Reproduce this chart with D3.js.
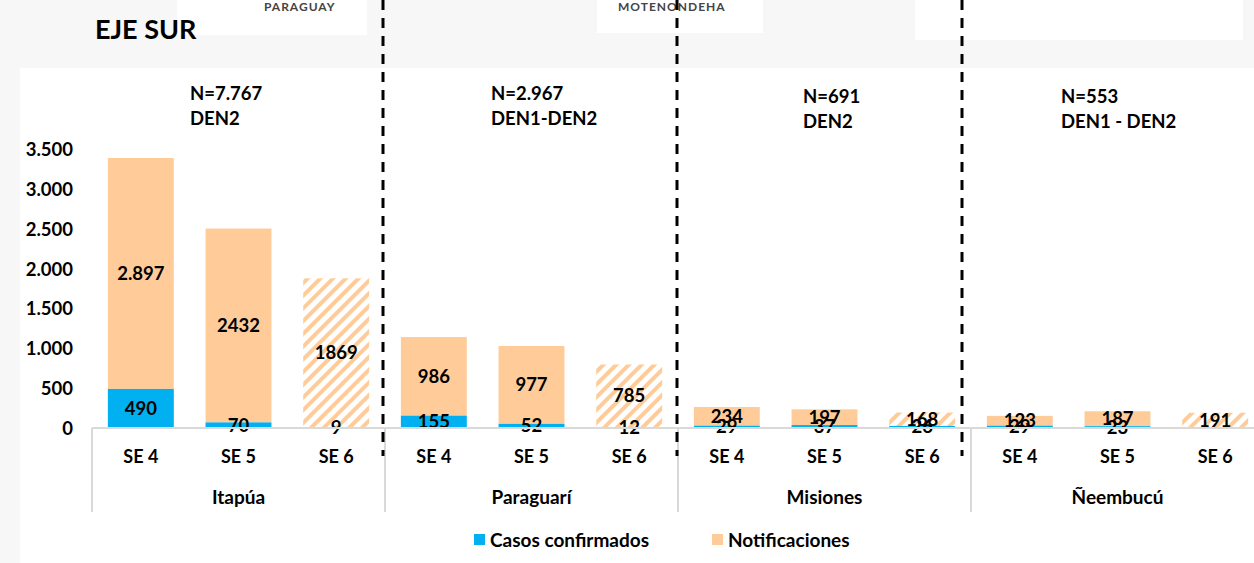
<!DOCTYPE html>
<html>
<head>
  <meta charset="utf-8">
  <title>Eje Sur - notificaciones y casos confirmados</title>
  <script src="https://d3js.org/d3.v7.min.js"></script>
  <style>
    body {
      margin: 0;
      background: #fff;
    }
    svg text {
      font-family: Lato, "Open Sans", sans-serif;
      font-weight: 700;
      fill: #000;
    }
  </style>
</head>
<body>
  <div id="chart"></div>
  <script>
    // Data
    var regions = ["Itapúa", "Paraguarí", "Misiones", "Ñeembucú"];
    var weeks = ["SE 4", "SE 5", "SE 6"];
    var confirmados = [
      [490, 70, 9],
      [155, 52, 12],
      [29, 37, 26],
      [29, 23, 0]
    ];
    var notificaciones = [
      [2897, 2432, 1869],
      [986, 977, 785],
      [234, 197, 168],
      [123, 187, 191]
    ];
    // labels as printed on the chart (mixed formatting in the original)
    var confLabels = [
      ["490", "70", "9"],
      ["155", "52", "12"],
      ["29", "37", "26"],
      ["29", "23", ""]
    ];
    var notifLabels = [
      ["2.897", "2432", "1869"],
      ["986", "977", "785"],
      ["234", "197", "168"],
      ["123", "187", "191"]
    ];
    var regionNotes = [
      ["N=7.767", "DEN2"],
      ["N=2.967", "DEN1-DEN2"],
      ["N=691", "DEN2"],
      ["N=553", "DEN1 - DEN2"]
    ];
    var yTicks = [0, 500, 1000, 1500, 2000, 2500, 3000, 3500];
    var partialWeek = "SE 6"; // incomplete week, drawn hatched

    var width = 1254, height = 563;
    var blue = "#00B0F0", peach = "#FFCC99";

    var svg = d3.select("#chart").append("svg")
      .attr("width", width)
      .attr("height", height);

    // background + header strips
    svg.append("rect").attr("width", width).attr("height", height).attr("fill", "#f7f7f7");
    svg.append("rect").attr("x", 20).attr("y", 68).attr("width", width - 20).attr("height", height - 68).attr("fill", "#fff");
    svg.append("rect").attr("x", 177).attr("y", 0).attr("width", 190).attr("height", 35).attr("fill", "#fff");
    svg.append("rect").attr("x", 597).attr("y", 0).attr("width", 166).attr("height", 33).attr("fill", "#fff");
    svg.append("rect").attr("x", 915).attr("y", 0).attr("width", 328).attr("height", 40).attr("fill", "#fff");
    svg.append("text").attr("x", 264).attr("y", 11).style("font-size", "12px").style("letter-spacing", "1px")
      .style("fill", "#444").text("PARAGUAY");
    svg.append("text").attr("x", 618).attr("y", 11).style("font-size", "12px").style("letter-spacing", "1px")
      .style("fill", "#444").text("MOTENONDEHA");

    svg.append("text").attr("x", 95).attr("y", 39).style("font-size", "27px").text("EJE SUR");

    // hatch pattern for the partial week
    var defs = svg.append("defs");
    var pat = defs.append("pattern")
      .attr("id", "hatch")
      .attr("patternUnits", "userSpaceOnUse")
      .attr("width", 9).attr("height", 9)
      .attr("patternTransform", "rotate(45)");
    pat.append("rect").attr("width", 9).attr("height", 9).attr("fill", "#fff");
    pat.append("rect").attr("width", 4).attr("height", 9).attr("fill", peach);

    // scales
    var x0 = d3.scaleBand().domain(regions).range([92, 1264]);
    var x1 = d3.scaleBand().domain(weeks).range([0, x0.bandwidth()])
      .paddingInner(0.325).paddingOuter(0.1625);
    var y = d3.scaleLinear().domain([0, 3500]).range([428, 149]);

    var loc = d3.formatLocale({ decimal: ",", thousands: ".", grouping: [3], currency: ["", ""] });
    var fmt = loc.format(",");

    // y axis (labels only)
    var yAxis = svg.append("g")
      .attr("transform", "translate(73,0)")
      .call(d3.axisLeft(y).tickValues(yTicks).tickFormat(fmt).tickSize(0).tickPadding(0));
    yAxis.select(".domain").remove();
    yAxis.selectAll("text").style("font-size", "18.5px").attr("dy", "0.35em");

    // flatten
    var rows = [];
    regions.forEach(function(r, i) {
      weeks.forEach(function(w, j) {
        rows.push({
          region: r, week: w,
          conf: confirmados[i][j], notif: notificaciones[i][j],
          confLabel: confLabels[i][j], notifLabel: notifLabels[i][j]
        });
      });
    });

    var bars = svg.append("g").selectAll("g")
      .data(rows)
      .enter().append("g")
      .attr("transform", function(d) { return "translate(" + (x0(d.region) + x1(d.week)) + ",0)"; });

    bars.append("rect")
      .attr("width", x1.bandwidth())
      .attr("y", function(d) { return y(d.conf + d.notif); })
      .attr("height", function(d) { return y(d.conf) - y(d.conf + d.notif); })
      .attr("fill", function(d) { return d.week === partialWeek ? "url(#hatch)" : peach; });

    bars.append("rect")
      .attr("width", x1.bandwidth())
      .attr("y", function(d) { return y(d.conf); })
      .attr("height", function(d) { return y(0) - y(d.conf); })
      .attr("fill", blue);

    // axis box: baseline and group separators
    var axisG = svg.append("g");
    axisG.append("line")
      .attr("x1", x0.range()[0]).attr("x2", width)
      .attr("y1", y(0)).attr("y2", y(0))
      .attr("stroke", "#d9d9d9").attr("stroke-width", 2);
    axisG.selectAll("line.sep")
      .data(regions)
      .enter().append("line")
      .attr("class", "sep")
      .attr("x1", function(d) { return x0(d); })
      .attr("x2", function(d) { return x0(d); })
      .attr("y1", y(0)).attr("y2", 512)
      .attr("stroke", "#d9d9d9").attr("stroke-width", 2);

    // value labels
    bars.append("text")
      .attr("x", x1.bandwidth() / 2)
      .attr("y", function(d) { return y(d.conf + d.notif / 2); })
      .attr("dy", "0.35em")
      .attr("text-anchor", "middle")
      .style("font-size", "18.5px")
      .text(function(d) { return d.notifLabel; });

    bars.append("text")
      .attr("x", x1.bandwidth() / 2)
      .attr("y", function(d) { return y(d.conf / 2); })
      .attr("dy", "0.35em")
      .attr("text-anchor", "middle")
      .style("font-size", "18.5px")
      .text(function(d) { return d.confLabel; });

    // week and region labels
    bars.append("text")
      .attr("x", x1.bandwidth() / 2)
      .attr("y", 457)
      .attr("dy", "0.35em")
      .attr("text-anchor", "middle")
      .style("font-size", "18px")
      .text(function(d) { return d.week; });

    svg.append("g").selectAll("text")
      .data(regions)
      .enter().append("text")
      .attr("x", function(d) { return x0(d) + x0.bandwidth() / 2; })
      .attr("y", 497)
      .attr("dy", "0.35em")
      .attr("text-anchor", "middle")
      .style("font-size", "19px")
      .text(function(d) { return d; });

    // N / serotype notes
    var noteX = [190, 491, 803, 1061];
    var noteY = [100, 100, 103, 103];
    regionNotes.forEach(function(n, i) {
      svg.append("text").attr("x", noteX[i]).attr("y", noteY[i]).style("font-size", "18.5px").text(n[0]);
      svg.append("text").attr("x", noteX[i]).attr("y", noteY[i] + 25).style("font-size", "18.5px").text(n[1]);
    });

    // dashed dividers between regions
    var dividerOffsets = [-2, -1, -9];
    svg.append("g").selectAll("line")
      .data(regions.slice(1))
      .enter().append("line")
      .attr("x1", function(d, i) { return x0(d) + dividerOffsets[i]; })
      .attr("x2", function(d, i) { return x0(d) + dividerOffsets[i]; })
      .attr("y1", 0).attr("y2", 456)
      .attr("stroke", "#000").attr("stroke-width", 3)
      .attr("stroke-dasharray", "10,8");

    // legend
    var legend = [
      { label: "Casos confirmados", color: blue, x: 474 },
      { label: "Notificaciones", color: peach, x: 712 }
    ];
    var lg = svg.append("g").selectAll("g")
      .data(legend)
      .enter().append("g")
      .attr("transform", function(d) { return "translate(" + d.x + ",534)"; });
    lg.append("rect").attr("width", 11).attr("height", 11).attr("fill", function(d) { return d.color; });
    lg.append("text").attr("x", 16).attr("y", 6).attr("dy", "0.35em")
      .style("font-size", "19px").text(function(d) { return d.label; });
  </script>
</body>
</html>
